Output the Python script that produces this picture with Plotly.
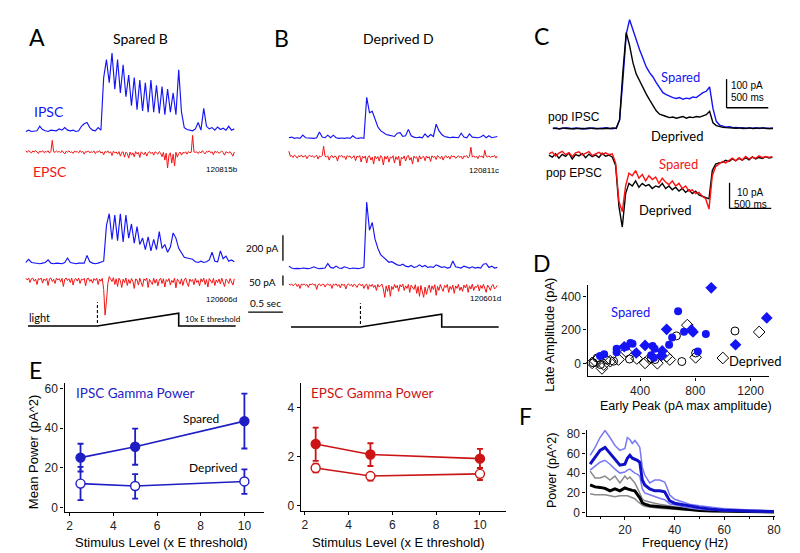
import plotly.graph_objects as go

W, H = 800, 553
TXT = "Lato"
NUM = "Liberation Sans"

# ---------------- single-cell IPSC traces (pA), one sample every 40 ms ----------------
DT = 0.04
ipsc_A1 = [0,10,0,5,5,40,15,5,0,10,5,5,20,10,30,10,5,10,0,5,40,60,70,30,10,5,30,10,
           420,560,380,610,330,560,300,520,270,440,200,420,170,400,160,380,150,400,150,360,140,350,130,330,150,300,130,480,
           150,30,15,10,5,20,70,10,180,40,20,30,10,35,15,25,10,40,10,20]
ipsc_A2 = [10,35,10,5,5,0,5,10,30,5,0,5,3,0,10,45,10,5,0,5,3,5,65,15,5,0,5,10,
           20,300,390,190,380,180,390,170,380,200,310,160,290,150,200,110,210,100,190,110,250,120,150,90,130,240,200,120,
           80,50,45,40,35,15,10,20,10,15,30,90,20,15,100,40,60,20,30,15]
ipsc_B1 = [5,10,0,5,0,25,5,3,0,0,5,50,10,5,25,5,25,5,0,3,0,5,0,20,3,0,5,0,
           320,200,210,150,90,60,45,30,25,20,15,40,45,15,20,70,20,10,5,10,5,35,10,30,15,110,60,30,
           15,10,5,10,5,5,40,10,5,35,10,5,5,10,25,5,20,5,10,15]
ipsc_B2 = [20,5,0,3,0,5,3,0,5,15,5,0,3,5,40,10,5,20,5,3,15,5,0,5,3,0,5,10,
           520,300,360,230,160,110,90,70,50,55,40,30,25,35,20,15,25,10,15,30,15,25,10,15,10,30,20,10,
           15,5,10,60,15,10,5,20,10,5,15,5,10,5,35,40,10,20,5,10]

# ---------------- single-cell EPSC traces (pA), one sample every 20 ms ----------------
DT_E = 0.02
epsc_A1 = [2,-6,3,-3,-9,1,-4,4,-2,-12,0,-5,3,-7,-2,-4,2,-10,-1,55,-3,-6,2,-5,-1,
           -8,3,-4,-14,0,-5,2,-7,-3,-11,1,-4,-2,-9,3,-6,-1,-15,-2,-5,2,-8,-3,-6,1,
           -12,-2,-5,3,-9,-4,-18,-1,-6,2,-10,-3,-22,0,-8,-4,-15,-2,-25,-6,-3,-30,-5,-12,-35,
           -4,-20,-8,-28,-2,-14,-6,-32,-3,-10,-18,-4,-25,-7,-2,-12,-5,-20,-3,-8,-15,-2,-9,-28,-6,
           -45,-10,-85,-20,-8,-60,-15,-75,-5,-30,-12,-4,-20,-6,-10,-3,-15,-2,-8,-5,80,-4,-6,-3,-12,
           -2,-9,3,-6,-14,-1,-5,2,-8,-3,-18,0,-6,-2,-11,-4,1,-7,-20,-3,-5,-9,-2,-12,-25,-4]
epsc_A2 = [-4,-12,-2,-25,-6,-3,-18,-8,-35,-5,-10,-2,-28,-7,-15,-4,-40,-6,-2,-20,-9,-30,-3,-12,-5,
           -22,-4,-45,-8,-2,-15,-6,-25,-3,-38,-10,-5,-18,-2,-30,-8,-12,-4,-42,-6,-3,-20,-9,-28,-5,
           -14,-3,-35,-7,-18,-4,-60,-190,-120,-30,5,-8,-20,0,-35,-6,-45,-3,-15,-50,-8,-25,-2,-40,-10,
           -30,-5,-18,-55,-7,-12,-38,-3,-25,-45,-6,-15,-2,-50,-9,-22,-35,-4,-28,-8,-42,-12,-3,-30,-6,
           -48,-10,-20,-5,-38,-14,-25,-3,-52,-8,-18,-33,-6,-40,-12,-2,-28,-45,-7,-20,-10,-36,-4,-25,-15,
           -42,-6,-22,-3,-35,-10,-48,-5,-18,-28,-4,-40,-12,-25,-7,-32,-3,-20,-45,-8,-15,-30,-5,-22,-38,-6]
epsc_B1 = [20,-6,-2,-12,0,-5,-15,-3,-8,1,-10,-4,-2,-18,-5,0,-8,-3,-12,-6,-1,-20,-4,-9,-2,
           45,-5,-10,-3,-25,-6,-2,-14,-4,-8,-30,-3,-6,-1,-12,-5,-22,-2,-9,-4,-16,-7,-3,-28,-5,
           -10,-2,-35,-6,-15,-4,-40,-8,-3,-25,-10,-45,-5,-18,-7,-30,-2,-12,-50,-6,-20,-4,-35,-9,-15,
           -3,-40,-8,-22,-5,-55,-10,-18,-4,-30,-7,-2,-25,-12,-45,-5,-15,-8,-35,-3,-20,-10,-6,-28,-4,
           -15,-8,-32,-3,-12,-6,-22,-2,-10,-18,-5,-25,-8,-3,-14,-6,-20,-2,-9,-4,-16,-7,-3,-12,-5,
           -20,-4,-8,-2,-14,-6,40,-10,-3,-12,-5,-18,-2,-8,-4,-15,25,-6,-10,-3,-12,-5,-8,-2,-15,-4]
epsc_B2 = [-3,-8,-2,-12,-5,-1,-15,-4,-25,-3,-7,-2,-10,-5,-20,-3,-6,-1,-9,-4,-30,-6,-2,-12,-5,
           -3,-18,-6,-2,-10,-4,-25,-3,-8,-1,-14,-5,-22,-3,-9,-4,-28,-6,-2,-11,-4,-16,-3,-8,-20,
           -5,-2,-12,-4,-25,-8,-3,-30,-6,-15,-4,-20,-9,-35,-5,-18,-10,-3,-28,-70,-12,-40,-8,-65,-15,
           -30,-5,-22,-10,-40,-6,-18,-3,-35,-12,-25,-5,-45,-8,-20,-30,-6,-50,-15,-65,-10,-40,-70,-18,-55,
           -25,-8,-45,-12,-30,-6,-60,-15,-35,-5,-25,-40,-10,-20,-5,-45,-15,-30,-8,-50,-12,-25,-4,-35,-18,
           -40,-8,-22,-5,-45,-12,-28,-3,-35,-15,-20,-6,-38,-10,-25,-4,-30,-45,-8,-18,-35,-12,-5,-28,-20,-10]
light_t = [0.03, 1.03, 2.2, 2.2, 3.02]      # s
light_v = [0, 0, 10, 0, 0]                  # x E threshold

# ---------------- population traces (pA), one sample every 40 ms ----------------
POP_DT = 40
pop_ipsc_spared = [0,2,-2,0,3,-1,0,2,0,-2,1,0,2,-1,0,1,3,0,-1,2,
                   30,170,330,380,345,305,275,245,215,195,180,160,140,125,118,112,108,105,108,102,106,104,110,108,118,125,130,145,
                   70,25,12,8,5,6,3,4,2,3,0,2,1,3,0,2,1,0,2]
pop_ipsc_deprived = [1,0,-1,2,0,1,-2,0,1,0,-1,2,0,1,0,-1,1,0,2,0,
                     30,200,335,290,230,190,165,145,120,100,80,62,50,45,42,38,40,36,38,42,36,40,38,42,40,45,48,60,
                     20,10,6,4,3,2,3,1,2,0,1,2,0,1,0,2,0,1,0]
pop_epsc_spared = [0.5,1.2,-0.3,0.8,1.5,0.2,1.0,-0.5,0.9,1.3,0.1,0.7,1.4,-0.2,0.6,1.1,0.3,0.9,0.2,0.5,
                   -3,-18,-22,-12,-7,-8,-6,-9,-7.5,-10,-8,-9.5,-8.5,-11,-9,-10.5,-11.5,-10,-12,-11,-13,-12,-14,-13.5,-15,-14.5,-16,-17,
                   -21,-8,-4.5,-3.5,-2.5,-3,-2,-1.2,-2.2,-1,-1.8,-0.5,-1.5,-0.8,-1.2,-0.3,-1,-0.5,-0.9,-0.6]
pop_epsc_deprived = [0,-0.8,0.5,-1.2,0.3,-0.5,0.8,-1.5,0.2,-0.3,0.6,-1.0,0.4,-0.6,0.1,-0.9,0.7,-0.4,0.0,-0.7,
                     -4,-20,-28,-15,-11,-12,-10,-12.5,-11,-12,-11.5,-13,-12,-12.5,-11,-13,-12,-13.5,-12.5,-14,-13,-14.5,-13.5,-15,-14,-15.5,-16,-16.5,
                     -17,-6,-3.5,-3,-2.8,-2,-2.5,-1.5,-2.2,-1.3,-2,-1,-1.8,-0.7,-1.5,-0.9,-1.3,-0.6,-1.1,-0.8]

# ---------------- panel D scatter ----------------
sp_circ_x = [675, 718, 876, 610, 632, 818, 490, 505, 480, 500, 330, 345, 300, 230, 230, 110, 140]
sp_circ_y = [312, 190, 176, 112, 155, 72, 105, 88, 50, 35, 122, 118, 100, 88, 68, 45, 55]
sp_diam_x = [915, 1317, 592, 771, 783, 1091, 372, 436, 556, 285, 560]
sp_diam_y = [451, 272, 204, 200, 188, 112, 63, 108, 48, 100, 75]
dp_circ_x = [663, 1087, 702, 802, 323, 113, 208, 508, 89, 480, 60, 160]
dp_circ_y = [165, 194, 12, 63, 27, -6, 14, 24, 33, 30, 5, 20]
dp_diam_x = [742, 1262, 999, 802, 592, 615, 525, 436, 376, 244, 184, 124, 137, 77, 53, 470, 300]
dp_diam_y = [229, 188, 33, 37, 43, 24, 2, 4, 30, 24, 14, -29, -6, 14, 4, 30, 70]

# ---------------- panel E ----------------
stim = [2.5, 5, 10]
ipsc_sp_mean = [25.2, 30.7, 43.6]; ipsc_sp_hi = [32.2, 39.8, 57.5]; ipsc_sp_lo = [18.2, 21.6, 29.8]
ipsc_dp_mean = [12.1, 10.9, 13.2]; ipsc_dp_hi = [20.5, 16.9, 19.3]; ipsc_dp_lo = [3.8, 4.5, 6.9]
epsc_sp_mean = [2.52, 2.09, 1.92]; epsc_sp_hi = [3.19, 2.55, 2.32]; epsc_sp_lo = [1.83, 1.62, 1.54]
epsc_dp_mean = [1.54, 1.21, 1.30]; epsc_dp_hi = [1.72, 1.34, 1.54]; epsc_dp_lo = [1.36, 1.02, 1.05]

# ---------------- panel F ----------------
freq = [6, 8, 10, 12, 14, 16, 18, 20, 21, 22, 23, 24, 25, 26, 27, 28, 30, 32, 34, 36, 37, 38, 40, 43, 46, 50, 55, 60, 70, 80]
pw_sp_mean = [49, 56, 63, 66, 60, 54, 48, 49, 55, 58, 55, 54, 53, 51, 33, 28, 24, 22, 22, 21, 17, 12, 9.5, 8, 6.5, 5, 3.3, 2.3, 1.6, 1]
pw_sp_hi = [58, 66, 76, 83, 76, 68, 63, 65, 76, 74, 70, 73, 70, 66, 46, 38, 30, 33, 33, 31, 25, 18, 13.5, 11, 8.5, 7, 5.5, 4, 2.6, 1.7]
pw_sp_lo = [43, 47, 51, 53, 49, 44, 40, 41, 43, 44, 42, 40, 39, 37, 24, 20, 18, 16, 14.5, 13, 11, 9, 8, 6, 4.5, 3.3, 2.5, 1.8, 1.1, 0.7]
pw_dp_mean = [28, 26, 25.5, 24.5, 22, 24, 22, 25, 24, 23, 22.5, 22, 19, 15, 10, 8.5, 7, 6.5, 6, 5.5, 5.2, 5, 4.4, 3.6, 2.9, 2.2, 1.6, 1.3, 0.9, 0.7]
pw_dp_hi = [42, 35, 35, 37, 33, 37, 30, 37, 34, 36, 33, 30, 25, 19, 14, 12, 10.5, 9.5, 8.5, 7.5, 7, 6.7, 6, 5, 4.3, 3.8, 3.2, 2.6, 1.7, 1]
pw_dp_lo = [19, 18, 18, 18, 17, 16, 17, 17.5, 17, 16, 15, 14, 11.5, 9.5, 7.5, 6.5, 5.5, 5, 4.4, 4, 3.8, 3.5, 3.2, 2.8, 2.4, 2, 1.5, 1.1, 0.6, 0.3]

# ---------------- colours ----------------
BLUE = "#1414f5"
RED = "#f41414"
EBLUE = "#1e1ec4"
ERED = "#cc1414"

fig = go.Figure()
axes = {}
annos = []
shapes = []
count = [0]


def new_axes(x_left, x_right, y_top, y_bottom, xr, yr, xa=None, ya=None):
    count[0] += 1
    s = "" if count[0] == 1 else str(count[0])
    xd = dict(domain=[x_left / W, x_right / W], range=xr, anchor="y" + s, visible=False, fixedrange=True)
    yd = dict(domain=[1 - y_bottom / H, 1 - y_top / H], range=yr, anchor="x" + s, visible=False, fixedrange=True)
    if xa:
        xd.update(xa)
    if ya:
        yd.update(ya)
    axes["xaxis" + s] = xd
    axes["yaxis" + s] = yd
    return "x" + s, "y" + s


def trace_axes(x_left, x_right, y_top, y_bottom, x0, ppx, base, ppy):
    xr = [(x_left - x0) / ppx, (x_right - x0) / ppx]
    yr = [(base - y_bottom) / ppy, (base - y_top) / ppy]
    return new_axes(x_left, x_right, y_top, y_bottom, xr, yr)


def line(xs, ys, ax, color, width=1.15, dash=None):
    fig.add_trace(go.Scatter(x=xs, y=ys, mode="lines", line=dict(color=color, width=width, dash=dash),
                             xaxis=ax[0], yaxis=ax[1], hoverinfo="skip", showlegend=False, cliponaxis=False))


def text(px, py, s, size=12, color="black", family=TXT, angle=0, xanchor="center"):
    annos.append(dict(x=px / W, y=1 - py / H, xref="paper", yref="paper", text=s, showarrow=False,
                      font=dict(size=size, color=color, family=family), xanchor=xanchor, yanchor="middle",
                      textangle=angle))


def seg(x1, y1, x2, y2, width=1.3, color="black"):
    shapes.append(dict(type="line", xref="paper", yref="paper", x0=x1 / W, y0=1 - y1 / H, x1=x2 / W, y1=1 - y2 / H,
                       line=dict(color=color, width=width)))


def tt(arr, dt):
    return [i * dt for i in range(len(arr))]


# pixel scales of the trace panels
PX_PER_S = 70.0
IPSC_PX = 0.13     # px per pA
EPSC_PX = 0.2
LIGHT_PX = 1.3

# ---------------- panels A and B ----------------
for x0, tr, bases in [
    (18, (ipsc_A1, epsc_A1, ipsc_A2, epsc_A2), (122, 142, 256, 270, 319)),
    (283, (ipsc_B1, epsc_B1, ipsc_B2, epsc_B2), (129, 146, 261, 276, 320)),
]:
    xl, xr = x0 - 10, x0 + 220
    a = trace_axes(xl, xr, 30, bases[0] + 12, x0, PX_PER_S, bases[0], IPSC_PX)
    line(tt(tr[0], DT), tr[0], a, BLUE)
    a = trace_axes(xl, xr, bases[1] - 20, bases[1] + 22, x0, PX_PER_S, bases[1], EPSC_PX)
    line(tt(tr[1], DT_E), tr[1], a, RED, 1.0)
    a = trace_axes(xl, xr, 180, bases[2] + 12, x0, PX_PER_S, bases[2], IPSC_PX)
    line(tt(tr[2], DT), tr[2], a, BLUE)
    a = trace_axes(xl, xr, bases[3] - 14, bases[3] + 42, x0, PX_PER_S, bases[3], EPSC_PX)
    line(tt(tr[3], DT_E), tr[3], a, RED, 1.0)
    a = trace_axes(xl, xr, 290, 326, x0, PX_PER_S, bases[4], LIGHT_PX)
    line(light_t, light_v, a, "black", width=1.6)
    line([light_t[1], light_t[1]], [2.3, 18.5], a, "black", width=1.1, dash="3px,2px")

text(29, 26, "A", 23)
text(133, 28, "Spared B", 14)
text(41, 102, "IPSC", 14, BLUE)
text(42, 163, "EPSC", 14, RED)
text(216, 161, "120815b", 8, family=NUM)
text(215, 292, "120606d", 8, family=NUM)
text(32, 310, "light", 11)
text(206, 312, "10x E threshold", 8)

text(276, 27, "B", 23)
text(393, 28, "Deprived D", 14)
text(480, 162, "120811c", 8, family=NUM)
text(481, 291, "120601d", 8, family=NUM)

# scale bars between A and B
seg(277, 253, 277, 253 - 200 * IPSC_PX)
text(256, 240, "200 pA", 10)
seg(277, 278, 277, 278 - 50 * EPSC_PX)
text(256, 274, "50 pA", 10)
seg(242, 305, 242 + 0.5 * PX_PER_S, 305)
text(259, 296, "0.5 sec", 10)

# ---------------- panel C ----------------
POP_PX_PER_MS = 0.084
POP_IPSC_PX = 0.29
POP_EPSC_PX = 2.6
a = trace_axes(540, 775, 2, 125, 549, POP_PX_PER_MS, 119, POP_IPSC_PX)
line(tt(pop_ipsc_spared, POP_DT), pop_ipsc_spared, a, BLUE, 1.4)
line(tt(pop_ipsc_deprived, POP_DT), pop_ipsc_deprived, a, "black", 1.4)
a = trace_axes(540, 775, 136, 222, 545, POP_PX_PER_MS, 146, POP_EPSC_PX)
line(tt(pop_epsc_deprived, POP_DT), pop_epsc_deprived, a, "black", 1.4)
line(tt(pop_epsc_spared, POP_DT), pop_epsc_spared, a, "#ff1010", 1.4)

text(538, 25, "C", 23)
text(678, 67, "Spared", 13, BLUE)
text(674, 127, "Deprived", 13)
text(570, 107, "pop IPSC", 12, family=NUM)
seg(724, 98, 724, 98 - 100 * POP_IPSC_PX)
seg(724, 98, 724 + 500 * POP_PX_PER_MS, 98)
text(745, 75, "100 pA", 10, family=NUM)
text(745, 88, "500 ms", 10, family=NUM)
text(676, 155, "Spared", 13, RED)
text(662, 202, "Deprived", 13)
text(570, 164, "pop EPSC", 12, family=NUM)
seg(727, 200, 727, 200 - 10 * POP_EPSC_PX)
seg(727, 200, 727 + 500 * POP_PX_PER_MS, 200)
text(748, 184, "10 pA", 10, family=NUM)
text(748, 196, "500 ms", 10, family=NUM)


# ---------------- visible axes style ----------------
def axstyle(tickvals, **kw):
    d = dict(visible=True, showline=True, linecolor="black", linewidth=1.4, ticks="outside", ticklen=3,
             tickwidth=1.4, tickcolor="black", showgrid=False, zeroline=False, tickvals=tickvals,
             tickfont=dict(family=NUM, size=12, color="#222"))
    d.update(kw)
    return d


# ---------------- panel D ----------------
a = new_axes(584, 767, 278, 370, [20, 1335], [-76, 465],
             xa=axstyle([400, 800, 1200]), ya=axstyle([0, 200, 400]))
mk = dict(xaxis=a[0], yaxis=a[1], mode="markers", hoverinfo="skip", showlegend=False, cliponaxis=False)
fig.add_trace(go.Scatter(x=dp_circ_x, y=dp_circ_y, marker=dict(symbol="circle-open", size=8, color="black", line=dict(width=1)), **mk))
fig.add_trace(go.Scatter(x=dp_diam_x, y=dp_diam_y, marker=dict(symbol="diamond-open", size=9, color="black", line=dict(width=1)), **mk))
fig.add_trace(go.Scatter(x=sp_circ_x, y=sp_circ_y, marker=dict(symbol="circle", size=8, color=BLUE), **mk))
fig.add_trace(go.Scatter(x=sp_diam_x, y=sp_diam_y, marker=dict(symbol="diamond", size=9, color=BLUE), **mk))
text(538, 255, "D", 23)
text(627, 305, "Spared", 13, BLUE)
text(753, 354, "Deprived", 13)
text(546, 328, "Late Amplitude (pA)", 13, family=NUM, angle=-90)
text(683, 400, "Early Peak (pA max amplitude)", 12.5, family=NUM)


# ---------------- panel E ----------------
def emarks(ax, mean, hi, lo, color, filled):
    fig.add_trace(go.Scatter(
        x=stim, y=mean, mode="lines+markers", xaxis=ax[0], yaxis=ax[1], hoverinfo="skip", showlegend=False,
        cliponaxis=False, line=dict(color=color, width=1.6),
        marker=dict(symbol="circle", size=9, color=color if filled else "white", line=dict(color=color, width=1.4)),
        error_y=dict(type="data", symmetric=False, array=[h - m for h, m in zip(hi, mean)],
                     arrayminus=[m - l for m, l in zip(mean, lo)], color=color, thickness=1.8, width=3)))


a = new_axes(57, 258, 377, 507, [1.77, 10.9], [-2, 62.7],
             xa=axstyle([2, 4, 6, 8, 10]), ya=axstyle([0, 20, 40, 60]))
emarks(a, ipsc_dp_mean, ipsc_dp_hi, ipsc_dp_lo, EBLUE, False)
emarks(a, ipsc_sp_mean, ipsc_sp_hi, ipsc_sp_lo, EBLUE, True)
a = new_axes(295, 502, 377, 506, [1.82, 11.2], [-0.2, 5.0],
             xa=axstyle([2, 4, 6, 8, 10]), ya=axstyle([0, 2, 4]))
emarks(a, epsc_dp_mean, epsc_dp_hi, epsc_dp_lo, ERED, False)
emarks(a, epsc_sp_mean, epsc_sp_hi, epsc_sp_lo, ERED, True)

text(28, 364, "E", 23)
text(128, 387, "IPSC Gamma Power", 13.5, EBLUE)
text(194, 413, "Spared", 12)
text(207, 462, "Deprived", 12)
text(367, 387, "EPSC Gamma Power", 13.5, ERED)
text(26, 447, "Mean Power (pA^2)", 13, family=NUM, angle=-90)
text(155, 538, "Stimulus Level (x E threshold)", 13, family=NUM)
text(393, 538, "Stimulus Level (x E threshold)", 13, family=NUM)

# ---------------- panel F ----------------
a = new_axes(583, 773, 424, 511, [4.6, 80.5], [-3, 84],
             xa=axstyle([20, 40, 60, 80], minor=dict(dtick=10, tick0=0, ticks="outside", ticklen=2, tickwidth=1.2, tickcolor="black")),
             ya=axstyle([0, 20, 40, 60, 80]))
line(freq, pw_dp_hi, a, "#8a8a8a", 1.5)
line(freq, pw_dp_lo, a, "#8a8a8a", 1.5)
line(freq, pw_dp_mean, a, "black", 3)
line(freq, pw_sp_hi, a, "#7878f4", 1.5)
line(freq, pw_sp_lo, a, "#7878f4", 1.5)
line(freq, pw_sp_mean, a, "#1010c8", 3)
text(521, 410, "F", 23)
text(548, 465, "Power (pA^2)", 12.5, family=NUM, angle=-90)
text(682, 539, "Frequency (Hz)", 12.5, family=NUM)

fig.update_layout(width=W, height=H, margin=dict(l=0, r=0, t=0, b=0), showlegend=False,
                  paper_bgcolor="white", plot_bgcolor="rgba(0,0,0,0)",
                  annotations=annos, shapes=shapes, **axes)
fig.write_html("out.html")
